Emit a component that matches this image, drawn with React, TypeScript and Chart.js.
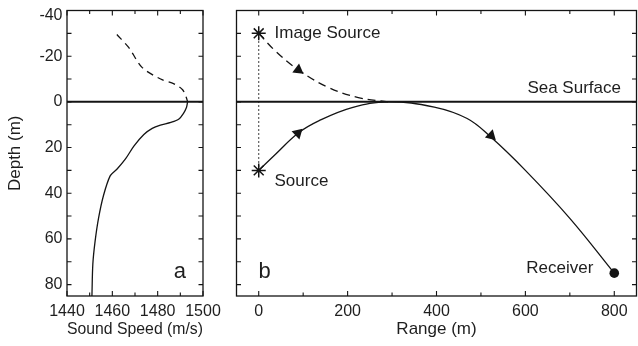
import { useEffect, useRef } from "react";
import { Chart, registerables } from "chart.js";
Chart.register(...registerables);

// ---------- Panel a: sound speed profile ----------
const profileDepth = [0, 2.5, 5, 7.5, 9, 10.2, 11.6, 14.3, 19.4, 25, 29.4, 32.3, 41, 51, 61, 71, 85];
const profileSpeed = [1493.2, 1492.7, 1491.4, 1489.4, 1485.8, 1481.2, 1477.6, 1473.9, 1469.5, 1465.8, 1462.1, 1459.1, 1456.1, 1453.9, 1452.4, 1451.4, 1451];
const imageProfileDepth = [-29.5, -23.7, -15, -10, -7.9, -5.3, -2, 0];
const imageProfileSpeed = [1462, 1467.3, 1473.2, 1481.3, 1487.2, 1491, 1492.6, 1493.2];
const speedTicks = [1440, 1460, 1480, 1500];

// ---------- Panel b: ray paths ----------
const directRange = [0, 39, 89, 135, 210, 291, 395, 469, 521, 600, 700, 800];
const directDepth = [30, 22.7, 13.6, 8.3, 2.5, 0, 2.3, 7.3, 15.2, 30, 51, 75];
const imageRayRange = [0, 39, 89, 158, 224, 291];
const imageRayDepth = [-30, -22, -14, -6.2, -1.9, 0];
const sourceRange = [0, 0];
const sourceDepth = [-30, 30];
const receiverRange = [800];
const receiverDepth = [75];
const arrowRange = [89, 88, 523];
const arrowDepth = [-14, 13.7, 14.8];
const arrowAngle = [7, 46, 14];
const rangeTicks = [0, 200, 400, 600, 800];
const depthTicks = [-40, -20, 0, 20, 40, 60, 80];

const INK = "#141414";
const TXT = "#1e1e1e";
const FONT = "'Liberation Sans', Arial, Helvetica, sans-serif";

const pts = (xs: number[], ys: number[]) => xs.map((x, i) => ({ x, y: ys[i] }));

type Note = { text: string; x: number; y: number; align: CanvasTextAlign; size: number };

const notesA: Note[] = [{ text: "a", x: 1489.8, y: 74.5, align: "center", size: 22 }];
const notesB: Note[] = [
  { text: "Image Source", x: 35.5, y: -30.2, align: "left", size: 17 },
  { text: "Source", x: 35.5, y: 34.6, align: "left", size: 17 },
  { text: "Sea Surface", x: 815, y: -5.9, align: "right", size: 17 },
  { text: "Receiver", x: 753, y: 72.7, align: "right", size: 17 },
  { text: "b", x: 13, y: 74.5, align: "center", size: 22 },
];

function framePlugin(id: string, xStep: number, xMajor: number, yStep: number, notes: Note[], topLabel: boolean) {
  return {
    id,
    afterDatasetsDraw(chart: any) {
      const { ctx, chartArea: a, scales } = chart;
      const xs = scales.x;
      const ys = scales.y;
      ctx.save();
      ctx.strokeStyle = INK;
      ctx.lineWidth = 1.3;
      ctx.strokeRect(a.left, a.top, a.right - a.left, a.bottom - a.top);
      ctx.lineWidth = 1.1;
      ctx.beginPath();
      const x0 = Math.ceil(xs.min / xStep);
      const x1 = Math.floor(xs.max / xStep);
      for (let k = x0; k <= x1; k++) {
        const v = k * xStep;
        const p = xs.getPixelForValue(v);
        const len = Math.abs(v % xMajor) < 1e-9 ? 5 : 3.5;
        ctx.moveTo(p, a.bottom);
        ctx.lineTo(p, a.bottom - len);
        ctx.moveTo(p, a.top);
        ctx.lineTo(p, a.top + len);
      }
      const y0 = Math.ceil(Math.min(ys.min, ys.max) / yStep);
      const y1 = Math.floor(Math.max(ys.min, ys.max) / yStep);
      for (let k = y0; k <= y1; k++) {
        const p = ys.getPixelForValue(k * yStep);
        ctx.moveTo(a.left, p);
        ctx.lineTo(a.left + 4.5, p);
        ctx.moveTo(a.right, p);
        ctx.lineTo(a.right - 4.5, p);
      }
      ctx.stroke();
      ctx.fillStyle = TXT;
      ctx.textBaseline = "middle";
      if (topLabel) {
        // the top depth label sits just below the frame corner, as in the original
        const v = depthTicks[0];
        ctx.font = `16px ${FONT}`;
        ctx.textAlign = "right";
        ctx.fillText(String(v), a.left - 4.5, ys.getPixelForValue(v) + 5.5);
      }
      for (const n of notes) {
        ctx.font = `${n.size}px ${FONT}`;
        ctx.textAlign = n.align;
        ctx.fillText(n.text, xs.getPixelForValue(n.x), ys.getPixelForValue(n.y));
      }
      ctx.restore();
    },
  };
}

function axisX(min: number, max: number, step: number, title: string, allowed: number[]) {
  return {
    type: "linear",
    position: "bottom",
    min,
    max,
    grid: { display: false, drawTicks: false },
    border: { display: false },
    ticks: {
      stepSize: step,
      includeBounds: false,
      autoSkip: false,
      maxRotation: 0,
      padding: 6,
      color: TXT,
      font: { family: FONT, size: 16 },
      callback: (v: number) => (allowed.includes(v) ? String(v) : ""),
    },
    title: {
      display: true,
      text: title,
      color: TXT,
      font: { family: FONT, size: 17, lineHeight: 1.2 },
      padding: { top: 0, bottom: 6 },
    },
    afterFit(s: any) {
      s.height = 50;
      s.paddingLeft = 0;
      s.paddingRight = 0;
    },
  };
}

function axisY(width: number, showLabels: boolean) {
  return {
    type: "linear",
    position: "left",
    reverse: true,
    min: -40,
    max: 85,
    grid: { display: false, drawTicks: false },
    border: { display: false },
    ticks: {
      display: showLabels,
      stepSize: 20,
      includeBounds: false,
      autoSkip: false,
      padding: 4.5,
      color: TXT,
      font: { family: FONT, size: 16 },
      callback: (v: number) => (depthTicks.includes(v) && v !== depthTicks[0] ? String(v) : ""),
    },
    title: {
      display: showLabels,
      text: "Depth (m)",
      color: TXT,
      font: { family: FONT, size: 17, lineHeight: 1.2 },
      padding: { top: 5, bottom: 0 },
    },
    afterFit(s: any) {
      s.width = width;
      s.paddingTop = 0;
      s.paddingBottom = 0;
    },
  };
}

export default function App() {
  const leftRef = useRef<HTMLCanvasElement>(null);
  const rightRef = useRef<HTMLCanvasElement>(null);

  useEffect(() => {
    const left = new Chart(leftRef.current!, {
      type: "scatter",
      data: {
        datasets: [
          {
            data: pts([1440, 1500], [0, 0]),
            showLine: true,
            borderColor: INK,
            borderWidth: 2,
            pointRadius: 0,
          },
          {
            data: pts(profileSpeed, profileDepth),
            showLine: true,
            borderColor: INK,
            borderWidth: 1.3,
            pointRadius: 0,
            tension: 0.3,
          },
          {
            data: pts(imageProfileSpeed, imageProfileDepth),
            showLine: true,
            borderColor: INK,
            borderWidth: 1.3,
            borderDash: [7, 5],
            pointRadius: 0,
            tension: 0.3,
          },
        ],
      } as any,
      options: {
        responsive: false,
        animation: false,
        layout: { padding: { left: 0, right: 27, top: 10.5, bottom: 0 } },
        plugins: { legend: { display: false }, tooltip: { enabled: false } },
        scales: {
          x: axisX(1440, 1500, 20, "Sound Speed (m/s)", speedTicks),
          y: axisY(67, true),
        } as any,
      },
      plugins: [framePlugin("frameA", 10, 20, 10, notesA, true)],
    });

    const right = new Chart(rightRef.current!, {
      type: "scatter",
      data: {
        datasets: [
          {
            data: pts(sourceRange, sourceDepth),
            showLine: false,
            pointStyle: "star",
            pointRadius: 7,
            borderColor: INK,
            borderWidth: 1.5,
          },
          {
            data: pts(receiverRange, receiverDepth),
            showLine: false,
            pointStyle: "circle",
            pointRadius: 4.8,
            backgroundColor: INK,
            borderColor: INK,
            borderWidth: 0,
          },
          {
            data: pts(arrowRange, arrowDepth),
            showLine: false,
            pointStyle: "triangle",
            pointRadius: 6.5,
            rotation: arrowAngle,
            backgroundColor: INK,
            borderColor: INK,
            borderWidth: 0,
          },
          {
            data: pts(sourceRange, sourceDepth),
            showLine: true,
            borderColor: INK,
            borderWidth: 1.1,
            borderDash: [1.5, 2.5],
            pointRadius: 0,
          },
          {
            data: pts(directRange, directDepth),
            showLine: true,
            borderColor: INK,
            borderWidth: 1.3,
            pointRadius: 0,
            tension: 0.4,
          },
          {
            data: pts(imageRayRange, imageRayDepth),
            showLine: true,
            borderColor: INK,
            borderWidth: 1.3,
            borderDash: [8, 5],
            pointRadius: 0,
            tension: 0.4,
          },
          {
            data: pts([-50, 850], [0, 0]),
            showLine: true,
            borderColor: INK,
            borderWidth: 2,
            pointRadius: 0,
          },
        ],
      } as any,
      options: {
        responsive: false,
        animation: false,
        layout: { padding: { left: 0, right: 4, top: 10.5, bottom: 0 } },
        plugins: { legend: { display: false }, tooltip: { enabled: false } },
        scales: {
          x: axisX(-50, 850, 200, "Range (m)", rangeTicks),
          y: axisY(21.5, false),
        } as any,
      },
      plugins: [framePlugin("frameB", 100, 200, 10, notesB, false)],
    });

    return () => {
      left.destroy();
      right.destroy();
    };
  }, []);

  return (
    <div
      style={{
        position: "fixed",
        left: 0,
        top: 0,
        width: 638,
        height: 346,
        overflow: "hidden",
        background: "#ffffff",
      }}
    >
      <canvas
        ref={leftRef}
        width={230}
        height={346}
        style={{ position: "absolute", left: 0, top: 0, width: 230, height: 346 }}
      />
      <canvas
        ref={rightRef}
        width={430}
        height={346}
        style={{ position: "absolute", left: 215, top: 0, width: 430, height: 346 }}
      />
    </div>
  );
}
